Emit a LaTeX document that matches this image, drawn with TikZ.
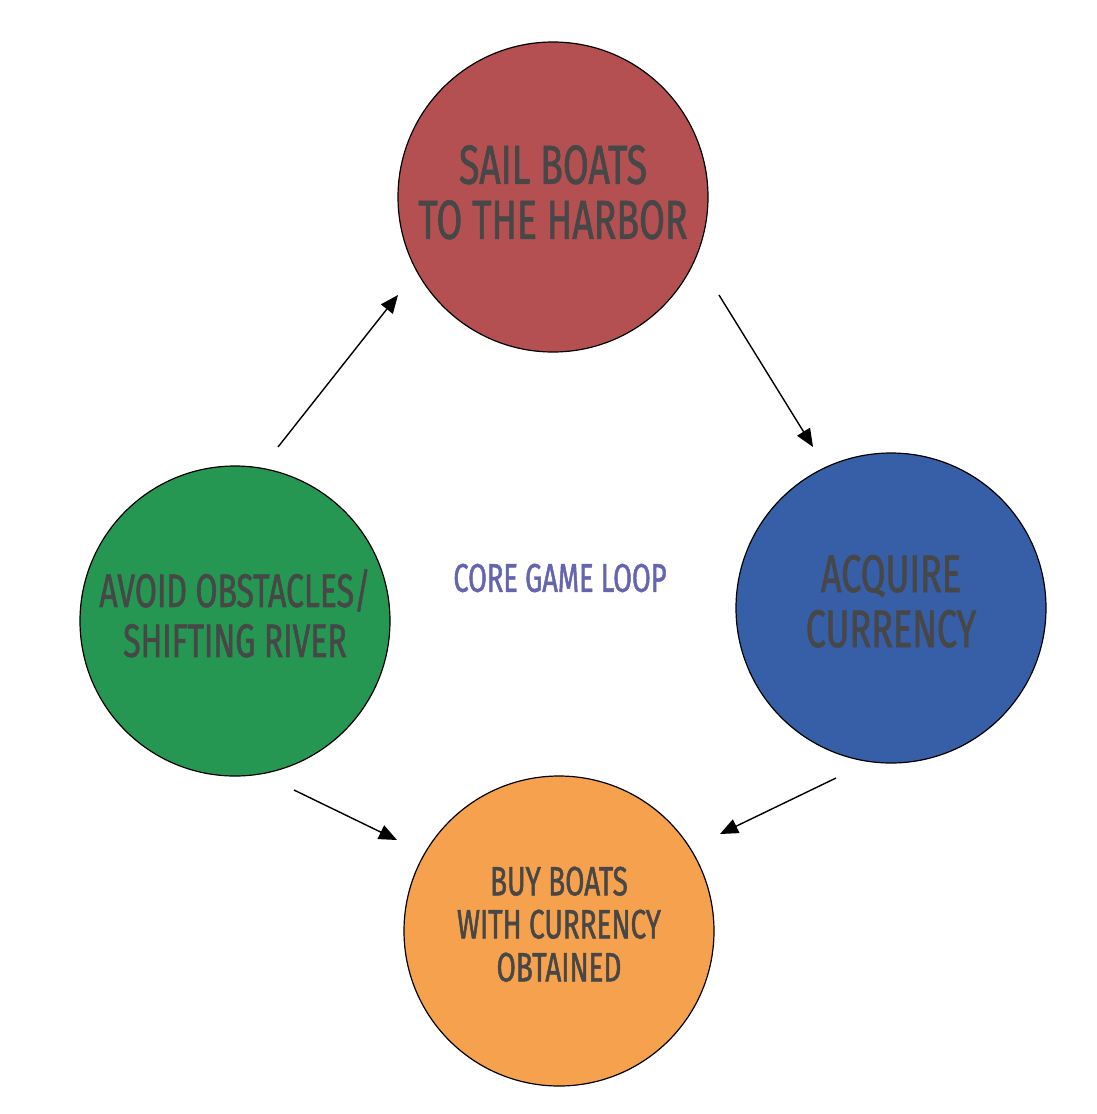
\documentclass[tikz,border=0pt]{standalone}
\usepackage{fontspec}
\newfontfamily\loopfont[FakeStretch=0.68,FakeBold=1.2]{Fira Sans}
\usetikzlibrary{arrows.meta}

\definecolor{sailred}{HTML}{B55052}
\definecolor{cashblue}{HTML}{375FA8}
\definecolor{rivergreen}{HTML}{269752}
\definecolor{buyorange}{HTML}{F5A14D}
\definecolor{labelgray}{HTML}{474747}
\definecolor{looppurple}{HTML}{6464AF}

\begin{document}
\begin{tikzpicture}[x=1pt,y=-1pt,>={Triangle[length=18pt,width=15pt]},
stage/.style={circle, draw=black, line width=1.2pt, minimum size=310pt, inner sep=0pt,
  align=center, text=labelgray},
flow/.style={->, line width=1.4pt}]
\useasboundingbox (0,0) rectangle (1096,1114);

\node[stage, fill=sailred, text depth=10pt, font=\loopfont\fontsize{55}{55}\selectfont] (sail) at (553,197) {SAIL BOATS\\TO THE HARBOR};
\node[stage, fill=cashblue, text depth=14pt, font=\loopfont\fontsize{53}{55}\selectfont] (cash) at (891,608) {ACQUIRE\\CURRENCY};
\node[stage, fill=rivergreen, text depth=16pt, font=\loopfont\fontsize{47}{50}\selectfont] (river) at (235,621) {AVOID OBSTACLES/\\SHIFTING RIVER};
\node[stage, fill=buyorange, text depth=14pt, font=\loopfont\fontsize{41}{43}\selectfont] (buy) at (559,931) {BUY BOATS\\WITH CURRENCY\\OBTAINED};

\node[text=looppurple, font=\loopfont\fontsize{40}{40}\selectfont] (loop) at (560,578) {CORE GAME LOOP};

% loose arrows between the stages
\coordinate (river-out) at (278,447); \coordinate (sail-in) at (398,295);
\coordinate (sail-out) at (719,295);  \coordinate (cash-in) at (813,447);
\coordinate (cash-out) at (836,778);  \coordinate (buy-inR) at (720,834);
\coordinate (river-dn) at (294,790);  \coordinate (buy-inL) at (397,840);

\draw[flow] (river-out) -- (sail-in);
\draw[flow] (sail-out) -- (cash-in);
\draw[flow] (cash-out) -- (buy-inR);
\draw[flow] (river-dn) -- (buy-inL);

\end{tikzpicture}
\end{document}
